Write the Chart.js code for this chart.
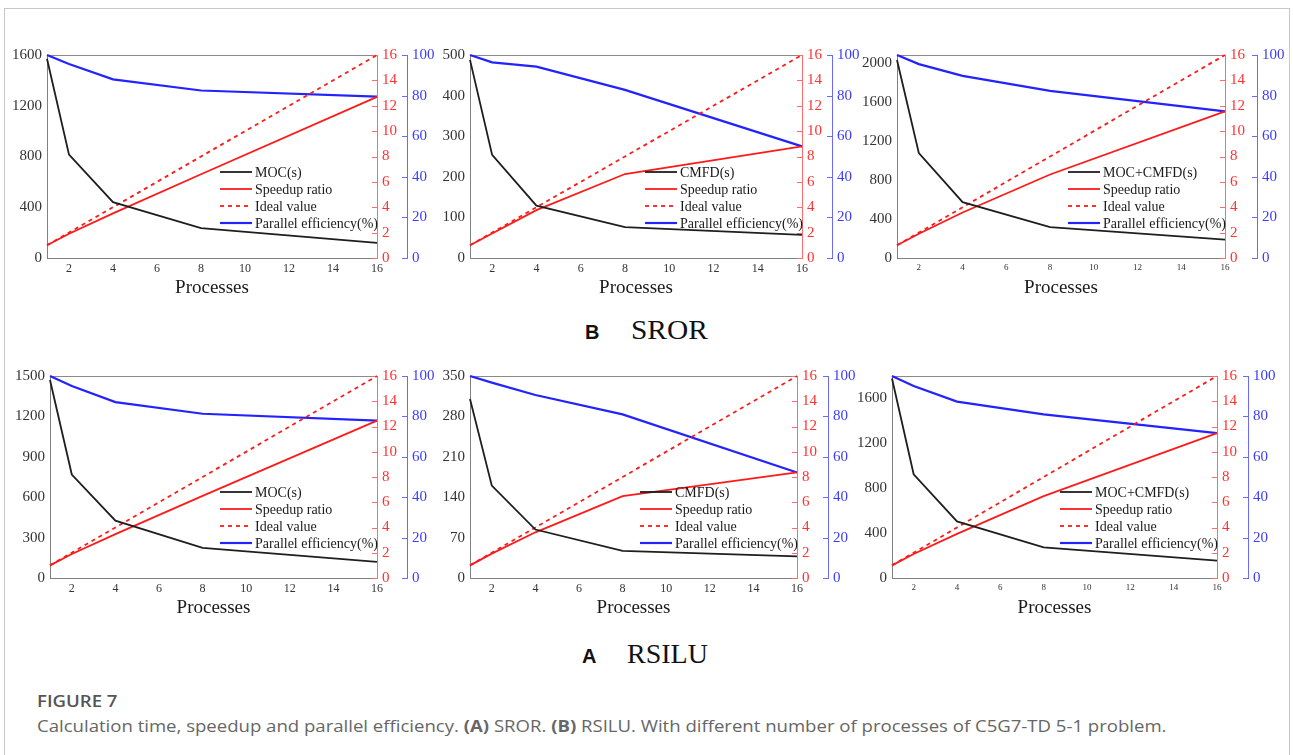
<!DOCTYPE html>
<html>
<head>
<meta charset="utf-8">
<script src="https://cdn.jsdelivr.net/npm/chart.js@4.4.1/dist/chart.umd.min.js"></script>
<style>
  body { margin: 0; background: #fff; width: 1293px; height: 755px; overflow: hidden; position: relative; }
  #frame { position: absolute; left: 4px; top: 8px; width: 1286px; height: 770px; border: 1px solid #c8c8c8; box-sizing: border-box; }
  canvas { position: absolute; }
  .tag { position: absolute; font: bold 20px "Liberation Sans", Arial, sans-serif; line-height: 20px; color: #111; }
  .sub { position: absolute; font: 28px "Liberation Serif", "Times New Roman", serif; line-height: 28px; color: #111; }
  .cap { position: absolute; left: 37px; font-family: "Open Sans", sans-serif; font-size: 16px; line-height: 20px; white-space: nowrap; color: #666; transform: scaleX(1.16); transform-origin: 0 0; }
</style>
</head>
<body>
<div id="frame"></div>
<div class="tag" style="left:585px;top:322px">B</div>
<div class="sub" style="left:631px;top:316px;transform:scaleX(1.05);transform-origin:0 0">SROR</div>
<div class="tag" style="left:582px;top:646px">A</div>
<div class="sub" style="left:627px;top:640px">RSILU</div>
<div class="cap" style="top:691px;color:#555;font-weight:600">FIGURE 7</div>
<div class="cap" style="top:716px">Calculation time, speedup and parallel efficiency. <b>(A)</b> SROR. <b>(B)</b> RSILU. With different number of processes of C5G7-TD 5-1 problem.</div>

<script>
// number of processes (x axis)
const processes = [1, 2, 4, 8, 16];
const xTicks = [2, 4, 6, 8, 10, 12, 14, 16];
const idealSpeedup = [1, 2, 4, 8, 16];
const speedTicks = [0, 2, 4, 6, 8, 10, 12, 14, 16];
const effTicks = [0, 20, 40, 60, 80, 100];

// SROR
const srorMocTime = [1570, 815, 440, 235, 120];
const srorMocSpeed = [1, 1.91, 3.52, 6.6, 12.7];
const srorMocEff = [100, 95.6, 88, 82.5, 79.5];
const srorCmfdTime = [488, 254, 129, 76, 57];
const srorCmfdSpeed = [1, 1.93, 3.77, 6.62, 8.8];
const srorCmfdEff = [100, 96.4, 94.3, 82.8, 55];
const srorTotalTime = [2034, 1077, 574, 318, 188];
const srorTotalSpeed = [1, 1.91, 3.59, 6.58, 11.55];
const srorTotalEff = [100, 95.5, 89.7, 82.3, 72.2];

// RSILU
const rsiluMocTime = [1470, 768, 426, 223, 119];
const rsiluMocSpeed = [1, 1.9, 3.48, 6.5, 12.46];
const rsiluMocEff = [100, 95, 87.1, 81.3, 77.9];
const rsiluCmfdTime = [310, 160, 84, 47, 37.5];
const rsiluCmfdSpeed = [1, 1.93, 3.62, 6.48, 8.36];
const rsiluCmfdEff = [100, 96.7, 90.6, 81, 52.2];
const rsiluTotalTime = [1778, 924, 504, 273, 154];
const rsiluTotalSpeed = [1, 1.9, 3.49, 6.48, 11.47];
const rsiluTotalEff = [100, 95, 87.3, 81, 71.7];

const serif = '"Liberation Serif", "Times New Roman", serif';
const RED = '#ff1a1a', BLUE = '#2323ff';

const panels = [
  { left: 0,   top: 40,  width: 440, name: 'MOC(s)',      time: srorMocTime,    speed: srorMocSpeed,    eff: srorMocEff,    yMax: 1600, yTicks: [0, 400, 800, 1200, 1600], axisW: 47, plotRight: 377, redW: 30, padTop: 15, xFont: 12 },
  { left: 430, top: 40,  width: 440, name: 'CMFD(s)',     time: srorCmfdTime,   speed: srorCmfdSpeed,   eff: srorCmfdEff,   yMax: 500,  yTicks: [0, 100, 200, 300, 400, 500], axisW: 40, plotRight: 372, redW: 30, padTop: 15, xFont: 12 },
  { left: 850, top: 40,  width: 443, name: 'MOC+CMFD(s)', time: srorTotalTime,  speed: srorTotalSpeed,  eff: srorTotalEff,  yMax: 2085, yTicks: [0, 400, 800, 1200, 1600, 2000], axisW: 47, plotRight: 375, redW: 32, padTop: 15, xFont: 9 },
  { left: 0,   top: 360, width: 440, name: 'MOC(s)',      time: rsiluMocTime,   speed: rsiluMocSpeed,   eff: rsiluMocEff,   yMax: 1500, yTicks: [0, 300, 600, 900, 1200, 1500], axisW: 50, plotRight: 377, redW: 30, padTop: 16, xFont: 12 },
  { left: 430, top: 360, width: 440, name: 'CMFD(s)',     time: rsiluCmfdTime,  speed: rsiluCmfdSpeed,  eff: rsiluCmfdEff,  yMax: 350,  yTicks: [0, 70, 140, 210, 280, 350], axisW: 40, plotRight: 367, redW: 31, padTop: 16, xFont: 12 },
  { left: 850, top: 360, width: 443, name: 'MOC+CMFD(s)', time: rsiluTotalTime, speed: rsiluTotalSpeed, eff: rsiluTotalEff, yMax: 1800, yTicks: [0, 400, 800, 1200, 1600], axisW: 42, plotRight: 367, redW: 31, padTop: 16, xFont: 9 }
];

const pts = vals => processes.map((p, i) => ({ x: p, y: vals[i] }));
const plain = v => String(v);

// top frame line + inward ticks on the right-hand axes
const framePlugin = {
  id: 'frameLines',
  beforeDatasetsDraw(chart) {
    const { ctx, chartArea: a } = chart;
    ctx.save();
    ctx.lineWidth = 1;
    ctx.strokeStyle = '#8a8a8a';
    ctx.beginPath();
    ctx.moveTo(a.left, Math.round(a.top) + 0.5);
    ctx.lineTo(a.right, Math.round(a.top) + 0.5);
    ctx.stroke();
    ['yR', 'yB'].forEach(id => {
      const s = chart.scales[id];
      ctx.strokeStyle = s.options.border.color;
      s.ticks.forEach(t => {
        const y = Math.round(s.getPixelForValue(t.value)) + 0.5;
        ctx.beginPath();
        ctx.moveTo(s.left - 5, y);
        ctx.lineTo(s.left, y);
        ctx.stroke();
      });
    });
    ctx.restore();
  }
};

// legend drawn inside the plot area
const innerLegend = {
  id: 'innerLegend',
  afterDatasetsDraw(chart) {
    const { ctx, chartArea: a } = chart;
    const x0 = a.right - 157;
    let y = a.bottom - 86;
    ctx.save();
    ctx.font = '14px ' + serif;
    ctx.textBaseline = 'middle';
    chart.data.datasets.forEach(ds => {
      ctx.strokeStyle = ds.borderColor;
      ctx.lineWidth = ds.borderWidth;
      ctx.setLineDash(ds.borderDash || []);
      ctx.beginPath();
      ctx.moveTo(x0, y);
      ctx.lineTo(x0 + 32, y);
      ctx.stroke();
      ctx.setLineDash([]);
      ctx.fillStyle = '#1a1a1a';
      ctx.fillText(ds.label, x0 + 35, y + 1);
      y += 17;
    });
    ctx.restore();
  }
};

const setTicks = arr => s => { s.ticks = arr.map(v => ({ value: v })); };
const noGrid = { display: false, drawTicks: false };

panels.forEach(p => {
  const cv = document.createElement('canvas');
  cv.width = p.width; cv.height = 270;
  cv.style.left = p.left + 'px'; cv.style.top = p.top + 'px';
  cv.style.width = p.width + 'px'; cv.style.height = '270px';
  document.body.appendChild(cv);

  const blueW = 33;
  const padRight = p.width - (p.plotRight + p.redW + blueW);

  new Chart(cv.getContext('2d'), {
    type: 'line',
    data: {
      datasets: [
        { label: p.name, data: pts(p.time), yAxisID: 'y', borderColor: '#1e1e1e', borderWidth: 1.8 },
        { label: 'Speedup ratio', data: pts(p.speed), yAxisID: 'yR', borderColor: RED, borderWidth: 1.8 },
        { label: 'Ideal value', data: pts(idealSpeedup), yAxisID: 'yR', borderColor: RED, borderWidth: 1.8, borderDash: [4, 4] },
        { label: 'Parallel efficiency(%)', data: pts(p.eff), yAxisID: 'yB', borderColor: BLUE, borderWidth: 2.2 }
      ]
    },
    options: {
      responsive: false,
      animation: false,
      devicePixelRatio: 1,
      events: [],
      elements: { point: { radius: 0 }, line: { tension: 0 } },
      datasets: { line: { clip: false } },
      layout: { padding: { left: 0, right: padRight, top: p.padTop, bottom: 7 } },
      plugins: { legend: { display: false }, tooltip: { enabled: false } },
      scales: {
        x: {
          type: 'linear', position: 'bottom', min: 1, max: 16,
          afterBuildTicks: setTicks(xTicks),
          afterFit: s => { s.height = 45; },
          grid: noGrid,
          border: { display: true, color: '#808080', width: 1 },
          ticks: { font: { family: serif, size: p.xFont }, color: '#333', padding: 4, maxRotation: 0, callback: plain },
          title: { display: true, text: 'Processes', color: '#1a1a1a', font: { family: serif, size: 19, lineHeight: 1.2 }, padding: { top: 0, bottom: 4 } }
        },
        y: {
          type: 'linear', position: 'left', min: 0, max: p.yMax,
          afterBuildTicks: setTicks(p.yTicks),
          afterFit: s => { s.width = p.axisW; },
          grid: noGrid,
          border: { display: true, color: '#808080', width: 1 },
          ticks: { font: { family: serif, size: 15 }, color: '#333', padding: 5, callback: plain }
        },
        yR: {
          type: 'linear', position: 'right', weight: 0, min: 0, max: 16,
          afterBuildTicks: setTicks(speedTicks),
          afterFit: s => { s.width = p.redW; },
          grid: noGrid,
          border: { display: true, color: '#ff6a6a', width: 1 },
          ticks: { font: { family: serif, size: 15 }, color: '#ff3030', padding: 5, callback: plain }
        },
        yB: {
          type: 'linear', position: 'right', weight: 1, min: 0, max: 100,
          afterBuildTicks: setTicks(effTicks),
          afterFit: s => { s.width = blueW; },
          grid: noGrid,
          border: { display: true, color: '#6a6aff', width: 1 },
          ticks: { font: { family: serif, size: 15 }, color: '#3b3bff', padding: 5, callback: plain }
        }
      }
    },
    plugins: [framePlugin, innerLegend]
  });
});
</script>
</body>
</html>
